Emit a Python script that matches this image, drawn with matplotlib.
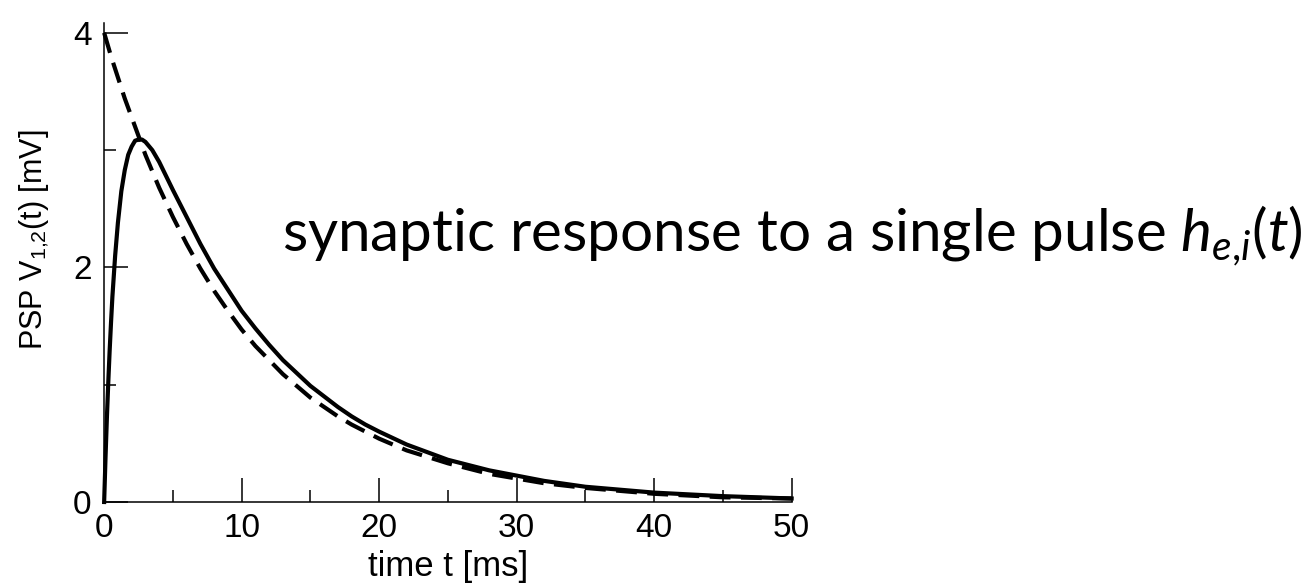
import matplotlib
matplotlib.use("Agg")
import matplotlib.pyplot as plt
from matplotlib.ticker import MultipleLocator

plt.rcParams['font.family'] = ['Liberation Sans', 'DejaVu Sans']
plt.rcParams['mathtext.fontset'] = 'custom'
plt.rcParams['mathtext.rm'] = 'Lato'
plt.rcParams['mathtext.sf'] = 'Liberation Sans'
plt.rcParams['mathtext.it'] = 'Lato:italic'

# time points [ms]
t = [0, 0.1, 0.2, 0.3, 0.4, 0.5, 0.6, 0.8, 1, 1.25, 1.5, 1.75, 2, 2.25,
     2.5, 2.75, 3, 3.5, 4, 4.5, 5, 6, 7, 8, 9, 10, 11, 12, 13, 14, 15,
     16, 17, 18, 19, 20, 22, 25, 28, 32, 35, 40, 45, 50]
# solid curve: PSP with finite rise
v_solid = [0, 0.38, 0.72, 1.02, 1.29, 1.53, 1.75, 2.10, 2.38, 2.65, 2.83,
           2.96, 3.03, 3.08, 3.09, 3.09, 3.07, 3.00, 2.90, 2.78, 2.66,
           2.43, 2.20, 1.99, 1.81, 1.63, 1.48, 1.34, 1.21, 1.10, 0.99,
           0.90, 0.81, 0.73, 0.66, 0.60, 0.49, 0.36, 0.27, 0.18, 0.13,
           0.08, 0.05, 0.03]
# dashed curve: instantaneous jump then decay
t_dash = [0, 0.5, 1, 1.5, 2, 2.5, 3, 4, 5, 6, 7, 8, 9, 10, 11, 12, 13,
          14, 15, 16, 17, 18, 19, 20, 22, 25, 28, 32, 35, 40, 45, 50]
v_dash = [4.0, 3.80, 3.62, 3.44, 3.28, 3.12, 2.96, 2.68, 2.43, 2.20, 1.99,
          1.80, 1.63, 1.47, 1.33, 1.21, 1.09, 0.99, 0.89, 0.81, 0.73,
          0.66, 0.60, 0.54, 0.44, 0.33, 0.24, 0.16, 0.12, 0.07, 0.04,
          0.03]

fig = plt.figure(figsize=(13.15, 5.87), dpi=100)
ax = fig.add_axes([0.0792, 0.1448, 0.5228, 0.8153])

ax.plot(t, v_solid, color='black', lw=3.0, clip_on=False)
ax.plot(t_dash, v_dash, color='black', lw=3.0, ls=(0, (5, 2.5)), clip_on=False)

ax.set_xlim(0, 50)
ax.set_ylim(0, 4.08)
ax.spines['top'].set_visible(False)
ax.spines['right'].set_visible(False)
for s in ['left', 'bottom']:
    ax.spines[s].set_linewidth(1.1)

ax.xaxis.set_major_locator(MultipleLocator(10))
ax.xaxis.set_minor_locator(MultipleLocator(5))
ax.yaxis.set_major_locator(MultipleLocator(2))
ax.yaxis.set_minor_locator(MultipleLocator(1))
ax.tick_params(which='major', direction='in', length=17, width=1.1,
               labelsize=24, pad=8)
ax.tick_params(which='minor', direction='in', length=8.5, width=1.1)
ax.tick_params(axis='y', pad=9)

ax.set_xlabel('time t [ms]', fontsize=25, labelpad=4)
ax.set_ylabel('PSP V$_{\\mathsf{1{,}2}}$(t) [mV]', fontsize=22)
ax.yaxis.set_label_coords(-0.078, 0.547)

fig.text(0.2144, 0.571,
         'synaptic response to a single pulse $\\mathit{h_{e{,}i}(t)}$',
         fontsize=42, family='Lato', va='baseline')

fig.savefig('out.png', dpi=100)
